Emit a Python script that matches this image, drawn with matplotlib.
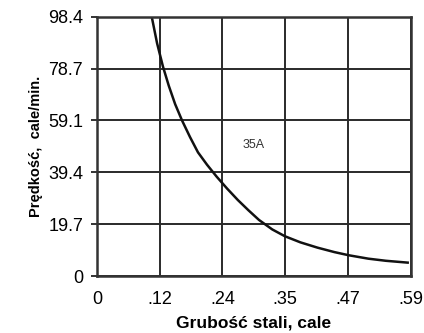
import matplotlib
matplotlib.use("Agg")
import matplotlib.pyplot as plt

plt.rcParams["font.family"] = ["Liberation Sans", "DejaVu Sans"]

# values (inches, inches/min)
thickness = [0.103, 0.113, 0.124, 0.135, 0.147, 0.160, 0.175, 0.190, 0.207, 0.225,
             0.245, 0.265, 0.285, 0.305, 0.330, 0.354, 0.383, 0.415, 0.447, 0.474,
             0.511, 0.544, 0.585]
speed = [98.4, 88.4, 79.6, 72.3, 65.3, 59.1, 52.8, 47.0, 42.3, 37.8,
         33.2, 28.9, 25.0, 21.3, 17.7, 15.1, 12.8, 10.8, 9.1, 7.9,
         6.6, 5.8, 5.1]

x_ticks = [0, 0.118, 0.236, 0.354, 0.472, 0.591]
x_labels = ["0", ".12", ".24", ".35", ".47", ".59"]
y_ticks = [0, 19.7, 39.4, 59.1, 78.7, 98.4]
y_labels = ["0", "19.7", "39.4", "59.1", "78.7", "98.4"]
curve_label = "35A"

fig = plt.figure(figsize=(4.24, 3.33), dpi=100)
ax = fig.add_axes([0.229, 0.171, 0.740, 0.778])

ax.plot(thickness, speed, color="#111111", lw=1.8, solid_joinstyle="round")

ax.set_xlim(0, 0.591)
ax.set_ylim(0, 98.4)
ax.set_xticks(x_ticks)
ax.set_xticklabels(x_labels)
ax.set_yticks(y_ticks)
ax.set_yticklabels(y_labels)
ax.grid(True, color="#2a2a2a", lw=1.4)
for s in ax.spines.values():
    s.set_color("#333333")
    s.set_linewidth(1.8)
ax.tick_params(axis="both", labelsize=13, color="#333333", width=1.4)
ax.tick_params(axis="y", length=4, pad=6)
ax.tick_params(axis="x", length=0, pad=11)

ax.text(0.294, 49.8, curve_label, fontsize=9, color="#333333", ha="center", va="center")

ax.set_xlabel("Grubość stali, cale", fontsize=12.5, fontweight="bold", labelpad=5)
ax.set_ylabel("Prędkość,  cale/min.", fontsize=10.5, fontweight="bold", labelpad=4)

fig.savefig("out.png", dpi=100)
